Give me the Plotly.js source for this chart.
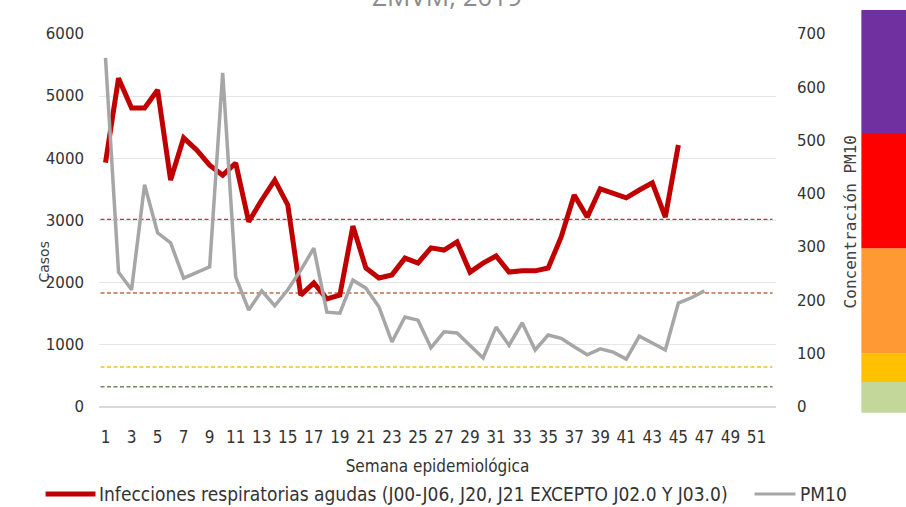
<!DOCTYPE html>
<html>
<head>
<meta charset="utf-8">
<script src="https://cdn.plot.ly/plotly-3.0.1.min.js"></script>
<style>
  html, body { margin: 0; padding: 0; background: #fff; }
  #chart { width: 906px; height: 507px; }
</style>
</head>
<body>
<div id="chart"></div>
<script>
// semanas epidemiológicas con dato
const semanasIRA = [1,2,3,4,5,6,7,8,9,10,11,12,13,14,15,16,17,18,19,20,21,22,23,24,25,26,27,28,29,30,31,32,33,34,35,36,37,38,39,40,41,42,43,44,45];
const semanasPM = [1,2,3,4,5,6,7,8,9,10,11,12,13,14,15,16,17,18,19,20,21,22,23,24,25,26,27,28,29,30,31,32,33,34,35,36,37,38,39,40,41,42,43,44,45,46,47];

// casos de infecciones respiratorias agudas (eje izquierdo)
const casosIRA = [3930, 5290, 4810, 4810, 5100, 3650, 4330, 4135, 3890, 3730,
                  3925, 2980, 3330, 3650, 3250, 1800, 1995, 1740, 1800, 2910,
                  2235, 2075, 2125, 2395, 2315, 2560, 2525, 2655, 2170, 2315,
                  2430, 2170, 2190, 2190, 2235, 2735, 3410, 3055, 3510, 3445,
                  3365, 3490, 3605, 3055, 4215];

// concentración PM10 (eje derecho)
const pm10 = [655, 253, 220, 417, 327, 308, 242, 252, 263, 627,
              244, 182, 218, 190, 220, 257, 298, 178, 176, 238,
              223, 188, 122, 169, 163, 111, 141, 139, 116, 92,
              150, 116, 158, 107, 135, 129, 113, 98, 109, 103,
              90, 133, 120, 107, 195, 205, 218];

// umbrales de PM10 (líneas punteadas)
const umbrales = [352, 214, 75, 38];
const umbralColores = ['#c8304a', '#c46a44', '#f2c12e', '#6f8a55'];

// escala de color a la derecha (límites en unidades PM10)
const bandas = [-11, 47, 101, 298, 514, 745];
const bandaColores = ['#c4d79b', '#ffc000', '#ff9933', '#ff0000', '#7030a0'];

const xTicks = [1,3,5,7,9,11,13,15,17,19,21,23,25,27,29,31,33,35,37,39,41,43,45,47,49,51];

const W = 906, H = 507;
const M = { l: 98.5, r: 129.5, t: 34, b: 100 };
const plotW = W - M.l - M.r, plotH = H - M.t - M.b;
const Y2MAX = 700;
const px = x => (x - M.l) / plotW;          // pixel -> paper x
const py = y => (H - M.b - y) / plotH;      // pixel -> paper y

const tickFont = { family: 'DejaVu Sans, sans-serif', size: 15, color: '#333333' };
const narrowFont = { family: 'Liberation Sans Narrow, DejaVu Sans Condensed, Liberation Sans, sans-serif', size: 17, color: '#333333' };
const legendFont = Object.assign({}, narrowFont, { size: 19 });

const traces = [
  {
    x: semanasIRA, y: casosIRA, type: 'scatter', mode: 'lines',
    name: 'Infecciones respiratorias agudas (J00-J06, J20, J21 EXCEPTO J02.0 Y J03.0)',
    line: { color: '#c00000', width: 5 }, yaxis: 'y'
  },
  {
    x: semanasPM, y: pm10, type: 'scatter', mode: 'lines',
    name: 'PM10', line: { color: '#a6a6a6', width: 3.5 }, yaxis: 'y2'
  }
];

const shapes = [];
umbrales.forEach((u, i) => shapes.push({
  type: 'line', xref: 'paper', yref: 'y2', x0: px(100), x1: px(773), y0: u, y1: u,
  line: { color: umbralColores[i], width: 1.6, dash: '4px,2.5px' }, layer: 'below'
}));
bandaColores.forEach((c, i) => shapes.push({
  type: 'rect', xref: 'paper', yref: 'paper', x0: px(862), x1: px(912),
  y0: bandas[i] / Y2MAX, y1: bandas[i + 1] / Y2MAX,
  fillcolor: c, line: { width: 0 }
}));
// leyenda manual
shapes.push({ type: 'line', xref: 'paper', yref: 'paper', x0: px(45), x1: px(95), y0: py(494), y1: py(494),
  line: { color: '#c00000', width: 5 } });
shapes.push({ type: 'line', xref: 'paper', yref: 'paper', x0: px(755), x1: px(796), y0: py(494), y1: py(494),
  line: { color: '#a6a6a6', width: 3 } });

const annotations = [
  { text: 'ZMVM, 2019', xref: 'paper', yref: 'paper', x: px(447), y: py(-4), showarrow: false,
    xanchor: 'center', yanchor: 'middle', font: { family: 'Open Sans, sans-serif', size: 26, color: '#8c8c8c' } },
  { text: 'Casos', xref: 'paper', yref: 'paper', x: px(43), y: py(262), showarrow: false, textangle: -90,
    xanchor: 'center', yanchor: 'middle', font: { family: 'DejaVu Sans, sans-serif', size: 14, color: '#404040' } },
  { text: 'Concentración PM10', xref: 'paper', yref: 'paper', x: px(851), y: py(222), showarrow: false, textangle: -90,
    xanchor: 'center', yanchor: 'middle', font: { family: 'DejaVu Sans Mono, monospace', size: 16, color: '#404040' } },
  { text: traces[0].name, xref: 'paper', yref: 'paper', x: px(96), y: py(494), showarrow: false,
    xanchor: 'left', yanchor: 'middle', font: legendFont },
  { text: 'PM10', xref: 'paper', yref: 'paper', x: px(799), y: py(494), showarrow: false,
    xanchor: 'left', yanchor: 'middle', font: legendFont }
];

const layout = {
  width: W, height: H,
  margin: M,
  paper_bgcolor: '#ffffff', plot_bgcolor: '#ffffff',
  showlegend: false,
  xaxis: {
    range: [0.5, 52.5], tickvals: xTicks, ticktext: xTicks.map(String),
    showgrid: false, zeroline: false, showline: false, ticks: '',
    tickfont: narrowFont, ticklabelstandoff: 18,
    title: { text: 'Semana epidemiológica', font: narrowFont, standoff: 14 }
  },
  yaxis: {
    range: [0, 6000], tickvals: [0, 1000, 2000, 3000, 4000, 5000, 6000],
    showgrid: true, gridcolor: '#e6e6e6', gridwidth: 1,
    zeroline: true, zerolinecolor: '#d9d9d9', zerolinewidth: 1.5,
    ticks: '', tickfont: tickFont, ticklabelstandoff: 14, showline: false
  },
  yaxis2: {
    range: [0, Y2MAX], tickvals: [0, 100, 200, 300, 400, 500, 600, 700],
    overlaying: 'y', side: 'right', showgrid: false, zeroline: false,
    ticks: '', tickfont: tickFont, ticklabelstandoff: 20, showline: false
  },
  shapes: shapes,
  annotations: annotations
};

Plotly.newPlot('chart', traces, layout, { displayModeBar: false, staticPlot: true });
</script>
</body>
</html>
